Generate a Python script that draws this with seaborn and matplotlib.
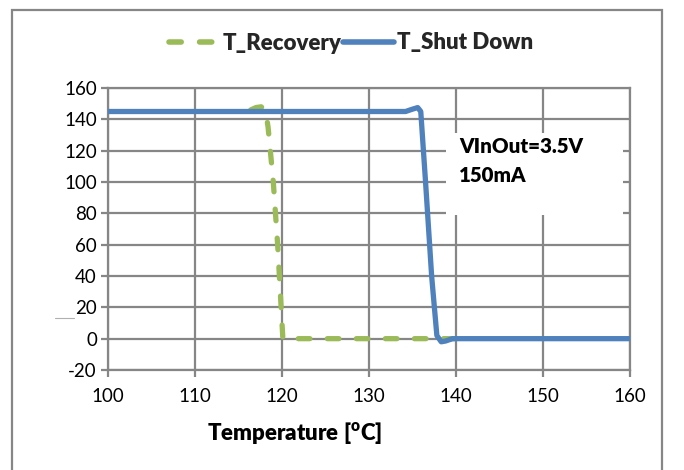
import matplotlib
matplotlib.use("Agg")
import matplotlib.pyplot as plt
import seaborn as sns
import pandas as pd
from matplotlib.patches import Rectangle
from matplotlib.lines import Line2D

# Data
recovery_temp = [116.4, 117.0, 117.6, 118.1, 118.4, 119.0, 119.5, 119.9, 120.1, 120.6, 125, 130, 135, 140]
recovery_val = [146, 147.5, 148, 146, 135, 100, 60, 20, 0, 0, 0, 0, 0, 0]
shutdown_temp = [100, 110, 120, 130, 134.2, 135.0, 135.6, 135.95, 136.5, 137.2, 137.8, 138.3, 138.8, 139.6, 145, 150, 160]
shutdown_val = [145, 145, 145, 145, 145, 146.5, 147.5, 145, 100, 40, 2, -2, -1.5, 0, 0, 0, 0]
x_ticks = [100, 110, 120, 130, 140, 150, 160]
y_ticks = [-20, 0, 20, 40, 60, 80, 100, 120, 140, 160]
annotation = "VInOut=3.5V\n150mA"

sns.set_theme(style="white")
plt.rcParams["font.family"] = ["Lato", "DejaVu Sans"]
plt.rcParams["axes.unicode_minus"] = False

GREY = "#868686"
GREEN = "#9BBB59"
BLUE = "#4F81BD"
BOLD = "heavy"
LW = 3.8

fig = plt.figure(figsize=(6.84, 4.70), dpi=100)
ax = fig.add_axes([108 / 684, 1 - 370 / 470, (630 - 108) / 684, (370 - 88) / 470])

df_rec = pd.DataFrame({"T": recovery_temp, "V": recovery_val})
df_sd = pd.DataFrame({"T": shutdown_temp, "V": shutdown_val})

sns.lineplot(data=df_rec, x="T", y="V", ax=ax, color=GREEN, lw=LW,
             label="T_Recovery", zorder=3, sort=False)
ax.lines[-1].set_dashes([2.2, 3.3])
ax.lines[-1].set_dash_capstyle("round")
sns.lineplot(data=df_sd, x="T", y="V", ax=ax, color=BLUE, lw=LW,
             label="T_Shut Down", zorder=4, sort=False)
ax.lines[-1].set_solid_capstyle("round")
ax.lines[-1].set_solid_joinstyle("round")

ax.set_xlim(100, 160)
ax.set_ylim(-20, 160)
ax.set_xticks(x_ticks)
ax.set_yticks(y_ticks)
ax.grid(True, color=GREY, lw=1.6)
ax.set_axisbelow(True)
for s in ax.spines.values():
    s.set_color(GREY)
    s.set_linewidth(1.6)
ax.tick_params(axis="both", which="both", direction="out", length=5, width=1.6,
               color=GREY, labelsize=13.5, labelcolor="black", pad=3)
ax.tick_params(axis="x", pad=8)
ax.tick_params(left=True, bottom=True)

ax.set_ylabel("")
ax.set_xlabel("Temperature [$\\mathregular{^{o}}$C]", fontsize=16, fontweight=BOLD,
              color="black")
ax.xaxis.set_label_coords((295 - 108) / 522, -(433 - 370) / 282)
ax.xaxis.label.set_va("center")

# White annotation box
ax.add_patch(Rectangle((138.9, 79), 20.3, 52, facecolor="white", edgecolor="none", zorder=2))
ax.text(140.4, 128.5, annotation, fontsize=14.8, fontweight=BOLD, va="top", ha="left",
        linespacing=1.6, zorder=5, color="black")

leg = ax.legend(loc="center", bbox_to_anchor=(351 / 684, 1 - 43 / 470),
                bbox_transform=fig.transFigure, ncol=2, frameon=False,
                prop={"weight": BOLD, "size": 16}, handlelength=2.3,
                handletextpad=0.15, columnspacing=0.05, borderpad=0)
for h in leg.get_lines():
    h.set_linewidth(4.0)

# Outer chart frame
fig.patches.append(Rectangle((12 / 684, -0.05), (662 - 12) / 684, 1.05 - 10 / 470,
                             transform=fig.transFigure, facecolor="none",
                             edgecolor=GREY, lw=1.6, zorder=0))
fig.lines.append(Line2D([55 / 684, 74 / 684], [1 - 318 / 470, 1 - 318 / 470],
                        transform=fig.transFigure, color="#b0b0b0", lw=0.8))

fig.savefig("out.png", dpi=100, facecolor="white")
